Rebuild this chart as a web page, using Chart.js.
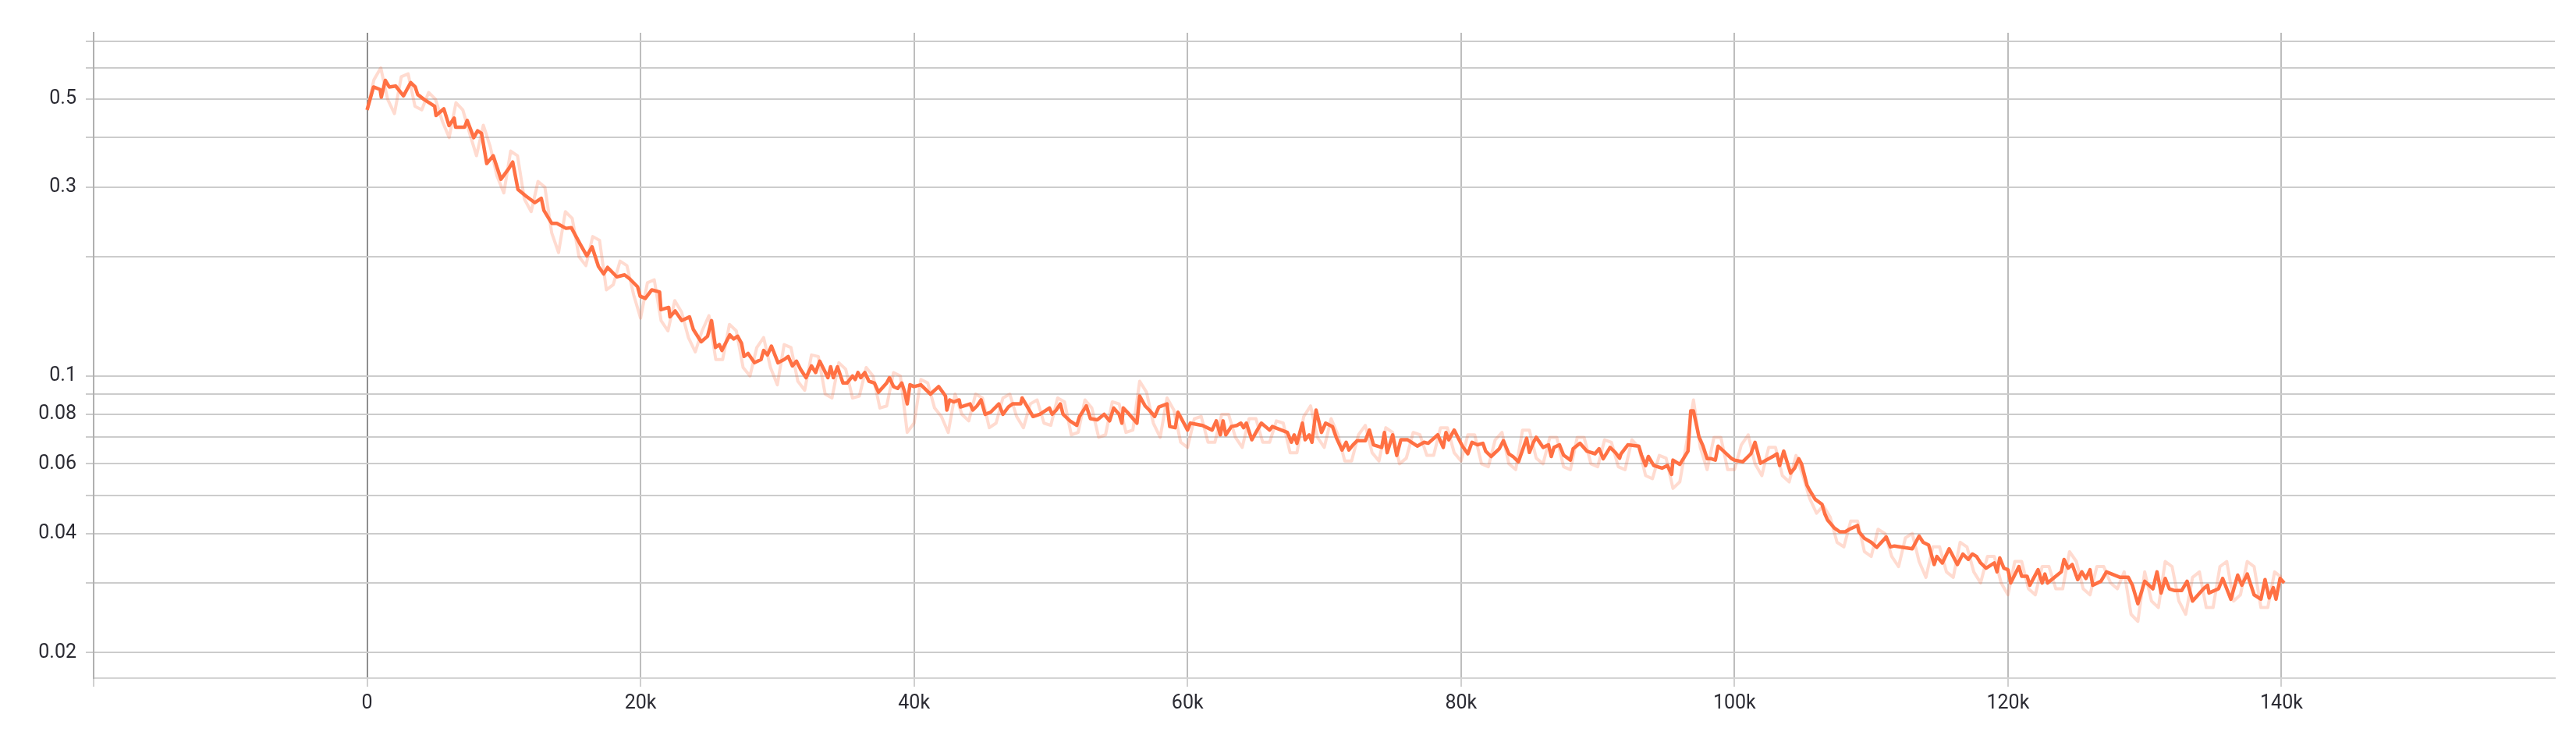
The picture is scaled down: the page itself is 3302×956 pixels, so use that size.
<!DOCTYPE html>
<html>
<head>
<meta charset="utf-8">
<script src="https://cdn.jsdelivr.net/npm/chart.js@4"></script>
<style>
  html, body { margin: 0; padding: 0; background: #ffffff; }
  canvas { display: block; }
</style>
</head>
<body>
<canvas id="c" width="3302" height="956"></canvas>
<script>
// ---- data ----
const smoothSteps = [0,470,950,1040,1330,1620,2090,2660,3190,3520,3700,4180,4940,5040,5610,5990,6370,6470,7130,7320,7800,8080,8370,8750,9220,9790,10360,10650,11030,11600,12270,12740,12930,13500,13880,14550,14930,15590,16070,16450,16920,17300,17590,18260,18830,19200,19780,19970,20350,20820,21390,21490,22060,22150,22530,23010,23580,23860,24430,24900,25190,25480,25760,25950,26520,26810,27100,27380,27570,27860,28330,28810,29000,29280,29570,30050,30500,30800,31100,31400,31700,32100,32500,32800,33100,33400,33700,33900,34100,34400,34800,35100,35500,35700,35900,36100,36400,36700,37100,37400,38000,38200,38500,38800,39100,39300,39500,39700,40000,40500,41200,41800,42300,42400,42600,42900,43300,43400,44100,44300,44600,44900,45200,45600,46200,46500,46900,47200,47800,47900,48700,49200,49900,50100,50400,50700,50900,51400,51900,52100,52600,52900,53400,53900,54300,54600,55000,55200,55300,55600,56300,56500,56900,57200,57600,57900,58500,58700,59100,59300,60000,60200,61100,61800,62100,62400,62600,62800,63200,63600,63900,64100,64300,64700,65100,65400,66000,66200,67300,67600,67800,68000,68400,68600,68900,69100,69400,69800,70100,70600,70900,71300,71600,71800,72100,72400,73000,73300,73600,74200,74400,74600,75000,75300,75600,76100,76800,77300,77600,78300,78700,78900,79100,79500,80100,80500,80800,81200,81600,81800,82200,82800,83100,83500,83800,84200,84800,85000,85300,85500,86000,86400,86600,86800,87200,87500,88000,88200,88700,89200,89800,90100,90400,90900,91300,91600,91700,92200,93000,93200,93500,93700,94100,94700,95100,95400,95500,96000,96600,96800,97000,97400,97700,98000,98300,98600,98800,99200,99800,100000,100600,101200,101500,101900,102800,103100,103300,103600,104100,104400,104700,104900,105300,105500,105900,106400,106600,106800,107300,107700,108100,108400,109000,109100,109500,110000,110400,111100,111400,111700,113000,113500,113800,114200,114600,114800,115200,115700,116300,116700,117100,117400,117700,118000,118400,119000,119200,119400,119700,120000,120200,120800,121000,121400,121600,121800,122200,122500,122700,122900,123900,124100,124400,124700,125100,125400,125700,126000,126200,126800,127200,128200,128800,129100,129500,130000,130600,130900,131200,131500,131800,132200,132700,133100,133500,134300,134600,134700,135400,135700,136300,136800,137100,137500,138000,138500,138800,139100,139400,139600,139900,140200];
const smoothValues = [0.47,0.537,0.529,0.506,0.558,0.537,0.54,0.51,0.551,0.537,0.514,0.499,0.48,0.455,0.473,0.429,0.448,0.425,0.425,0.442,0.40,0.416,0.41,0.344,0.36,0.314,0.334,0.347,0.296,0.285,0.274,0.281,0.262,0.243,0.243,0.236,0.237,0.215,0.201,0.212,0.189,0.181,0.188,0.178,0.18,0.176,0.168,0.159,0.157,0.165,0.163,0.147,0.149,0.141,0.146,0.138,0.141,0.131,0.122,0.126,0.138,0.118,0.120,0.116,0.127,0.124,0.126,0.121,0.112,0.114,0.108,0.110,0.116,0.113,0.119,0.108,0.110,0.112,0.106,0.109,0.104,0.099,0.106,0.102,0.109,0.104,0.099,0.1055,0.099,0.1055,0.096,0.096,0.100,0.098,0.102,0.099,0.102,0.097,0.096,0.091,0.096,0.099,0.094,0.093,0.096,0.0915,0.085,0.095,0.094,0.095,0.090,0.094,0.089,0.082,0.087,0.086,0.087,0.0835,0.085,0.082,0.084,0.087,0.080,0.081,0.085,0.080,0.0835,0.085,0.085,0.088,0.079,0.080,0.083,0.080,0.082,0.085,0.080,0.077,0.075,0.079,0.084,0.078,0.0775,0.080,0.077,0.083,0.080,0.076,0.083,0.081,0.076,0.089,0.084,0.082,0.079,0.0835,0.085,0.0745,0.074,0.081,0.073,0.076,0.075,0.073,0.077,0.071,0.077,0.071,0.0745,0.075,0.076,0.074,0.076,0.069,0.073,0.076,0.073,0.0745,0.072,0.068,0.071,0.0676,0.076,0.069,0.071,0.068,0.082,0.072,0.076,0.0745,0.0696,0.065,0.068,0.065,0.067,0.0686,0.0686,0.073,0.067,0.066,0.072,0.064,0.071,0.063,0.069,0.069,0.0665,0.068,0.0676,0.071,0.066,0.072,0.069,0.073,0.0665,0.0636,0.068,0.067,0.0676,0.0646,0.0626,0.0655,0.0686,0.0636,0.0626,0.0607,0.0696,0.0641,0.068,0.070,0.066,0.067,0.0626,0.066,0.067,0.0631,0.0613,0.0655,0.0676,0.0646,0.0636,0.0655,0.0618,0.066,0.064,0.062,0.0636,0.067,0.0665,0.0631,0.0594,0.0626,0.0594,0.0585,0.0594,0.0564,0.0613,0.0598,0.0646,0.0816,0.0816,0.0702,0.0665,0.0618,0.0618,0.0613,0.0665,0.0646,0.0618,0.0613,0.0607,0.0636,0.068,0.0602,0.0626,0.0636,0.0594,0.0646,0.0568,0.0585,0.0618,0.060,0.053,0.0514,0.0488,0.0474,0.0449,0.0433,0.0413,0.0404,0.0404,0.041,0.0419,0.0404,0.0389,0.038,0.0369,0.0392,0.037,0.0372,0.0366,0.0394,0.038,0.0374,0.0334,0.035,0.0337,0.0366,0.0334,0.0355,0.0344,0.0355,0.035,0.0337,0.0327,0.0337,0.032,0.0347,0.0327,0.0324,0.030,0.033,0.0312,0.0312,0.0296,0.0305,0.0324,0.030,0.0316,0.030,0.032,0.0344,0.0327,0.0334,0.0306,0.032,0.0308,0.0324,0.0296,0.0303,0.032,0.031,0.031,0.0296,0.0266,0.0303,0.029,0.032,0.0283,0.0308,0.029,0.0287,0.0287,0.0303,0.027,0.029,0.0296,0.0283,0.029,0.0308,0.0273,0.0314,0.0296,0.0316,0.028,0.0273,0.0306,0.0275,0.0292,0.0273,0.0308,0.030];

const rawSteps = [0,500,1000,1500,2000,2500,3000,3500,4000,4500,5000,5500,6000,6500,7000,7500,8000,8500,9000,9500,10000,10500,11000,11500,12000,12500,13000,13500,14000,14500,15000,15500,16000,16500,17000,17500,18000,18500,19000,19500,20000,20500,21000,21500,22000,22500,23000,23500,24000,24500,25000,25500,26000,26500,27000,27500,28000,28500,29000,29500,30000,30500,31000,31500,32000,32500,33000,33500,34000,34500,35000,35500,36000,36500,37000,37500,38000,38500,39000,39500,40000,40500,41000,41500,42000,42500,43000,43500,44000,44500,45000,45500,46000,46500,47000,47500,48000,48500,49000,49500,50000,50500,51000,51500,52000,52500,53000,53500,54000,54500,55000,55500,56000,56500,57000,57500,58000,58500,59000,59500,60000,60500,61000,61500,62000,62500,63000,63500,64000,64500,65000,65500,66000,66500,67000,67500,68000,68500,69000,69500,70000,70500,71000,71500,72000,72500,73000,73500,74000,74500,75000,75500,76000,76500,77000,77500,78000,78500,79000,79500,80000,80500,81000,81500,82000,82500,83000,83500,84000,84500,85000,85500,86000,86500,87000,87500,88000,88500,89000,89500,90000,90500,91000,91500,92000,92500,93000,93500,94000,94500,95000,95500,96000,96500,97000,97500,98000,98500,99000,99500,100000,100500,101000,101500,102000,102500,103000,103500,104000,104500,105000,105500,106000,106500,107000,107500,108000,108500,109000,109500,110000,110500,111000,111500,112000,112500,113000,113500,114000,114500,115000,115500,116000,116500,117000,117500,118000,118500,119000,119500,120000,120500,121000,121500,122000,122500,123000,123500,124000,124500,125000,125500,126000,126500,127000,127500,128000,128500,129000,129500,130000,130500,131000,131500,132000,132500,133000,133500,134000,134500,135000,135500,136000,136500,137000,137500,138000,138500,139000,139500,140000];
const rawValues = [0.47,0.56,0.60,0.50,0.46,0.57,0.58,0.48,0.47,0.52,0.50,0.44,0.40,0.49,0.47,0.41,0.36,0.43,0.38,0.32,0.29,0.37,0.36,0.28,0.26,0.31,0.30,0.23,0.205,0.26,0.25,0.20,0.19,0.225,0.22,0.165,0.17,0.195,0.19,0.16,0.14,0.172,0.175,0.138,0.13,0.155,0.145,0.125,0.115,0.13,0.142,0.11,0.11,0.135,0.13,0.105,0.10,0.118,0.125,0.105,0.095,0.12,0.118,0.097,0.092,0.113,0.112,0.09,0.088,0.108,0.104,0.088,0.089,0.105,0.10,0.083,0.084,0.102,0.10,0.072,0.076,0.098,0.096,0.083,0.079,0.072,0.09,0.08,0.077,0.09,0.088,0.074,0.076,0.088,0.09,0.079,0.074,0.085,0.087,0.076,0.075,0.088,0.086,0.071,0.072,0.087,0.083,0.07,0.071,0.086,0.085,0.072,0.073,0.097,0.091,0.076,0.07,0.088,0.082,0.068,0.066,0.078,0.079,0.068,0.068,0.08,0.08,0.07,0.066,0.078,0.078,0.068,0.068,0.077,0.076,0.064,0.064,0.079,0.084,0.07,0.066,0.078,0.071,0.061,0.061,0.071,0.075,0.064,0.061,0.074,0.072,0.06,0.062,0.072,0.071,0.063,0.063,0.074,0.074,0.064,0.061,0.071,0.071,0.06,0.059,0.069,0.072,0.06,0.058,0.073,0.073,0.062,0.06,0.07,0.07,0.059,0.058,0.07,0.07,0.06,0.059,0.069,0.068,0.059,0.058,0.069,0.066,0.056,0.055,0.063,0.062,0.052,0.054,0.068,0.087,0.066,0.058,0.07,0.07,0.058,0.058,0.067,0.071,0.06,0.056,0.066,0.066,0.056,0.054,0.063,0.056,0.049,0.045,0.047,0.044,0.038,0.037,0.043,0.043,0.036,0.035,0.041,0.040,0.035,0.033,0.039,0.04,0.034,0.031,0.037,0.037,0.032,0.031,0.038,0.037,0.032,0.03,0.035,0.035,0.03,0.028,0.034,0.034,0.029,0.028,0.033,0.033,0.029,0.029,0.036,0.034,0.029,0.028,0.033,0.033,0.03,0.029,0.032,0.025,0.024,0.032,0.027,0.026,0.034,0.033,0.027,0.025,0.031,0.032,0.026,0.026,0.033,0.034,0.027,0.028,0.034,0.033,0.026,0.026,0.032,0.031];

const xTickValues = [-20000,0,20000,40000,60000,80000,100000,120000,140000];
const xTickLabels = ['','0','20k','40k','60k','80k','100k','120k','140k'];
const yTickValues = [0.02,0.03,0.04,0.05,0.06,0.07,0.08,0.09,0.1,0.2,0.3,0.4,0.5,0.6,0.7];
const yTickLabels = ['0.02','','0.04','','0.06','','0.08','','0.1','','0.3','','0.5','',''];

// ---- chart ----
const zip = (xs, ys) => xs.map((x, i) => ({ x: x, y: ys[i] }));
const FONT = { family: 'Roboto, "Liberation Sans", Arial, sans-serif', size: 25 };

new Chart(document.getElementById('c'), {
  type: 'line',
  data: {
    datasets: [
      {
        label: 'smoothed',
        data: zip(smoothSteps, smoothValues),
        borderColor: '#ff7043',
        borderWidth: 4.5,
        pointRadius: 0,
        tension: 0,
        borderJoinStyle: 'round',
        fill: false,
        order: 0
      },
      {
        label: 'raw',
        data: zip(rawSteps, rawValues),
        borderColor: 'rgba(255,112,67,0.25)',
        borderWidth: 4,
        pointRadius: 0,
        tension: 0,
        borderJoinStyle: 'round',
        fill: false,
        order: 1
      }
    ]
  },
  options: {
    responsive: false,
    animation: false,
    devicePixelRatio: 1,
    layout: { padding: { left: 0, right: 27, top: 42, bottom: 0 } },
    plugins: { legend: { display: false }, tooltip: { enabled: false } },
    scales: {
      x: {
        type: 'linear',
        min: -20000,
        max: 160000,
        afterBuildTicks: s => { s.ticks = xTickValues.map(v => ({ value: v })); },
        afterFit: s => { s.height = 87; },
        ticks: {
          autoSkip: false,
          maxRotation: 0,
          padding: 7,
          color: '#2b2b33',
          font: FONT,
          callback: (v) => { const i = xTickValues.indexOf(v); return i >= 0 ? xTickLabels[i] : ''; }
        },
        grid: {
          drawOnChartArea: true,
          tickLength: 11,
          lineWidth: 2,
          color: ctx => {
            const v = ctx.tick ? ctx.tick.value : null;
            if (v === 0) return '#8f8f8f';
            if (v === -20000) return '#b0b0b0';
            return '#bdbdbd';
          },
          tickColor: '#d0d0d0',
          tickWidth: 2
        },
        border: { display: true, color: '#d4d4d4', width: 2 }
      },
      y: {
        type: 'logarithmic',
        min: 0.01725,
        max: 0.736,
        afterBuildTicks: s => { s.ticks = yTickValues.map(v => ({ value: v })); },
        afterFit: s => { s.width = 120; },
        ticks: {
          autoSkip: false,
          padding: 12,
          color: '#2b2b33',
          font: FONT,
          callback: (v) => {
            const i = yTickValues.findIndex(t => Math.abs(t - v) < 1e-9);
            return i >= 0 ? yTickLabels[i] : '';
          }
        },
        grid: {
          tickLength: 10,
          lineWidth: 2,
          color: '#cccccc',
          tickColor: '#cccccc'
        },
        border: { display: true, color: '#b0b0b0', width: 2 }
      }
    }
  }
});
</script>
</body>
</html>
